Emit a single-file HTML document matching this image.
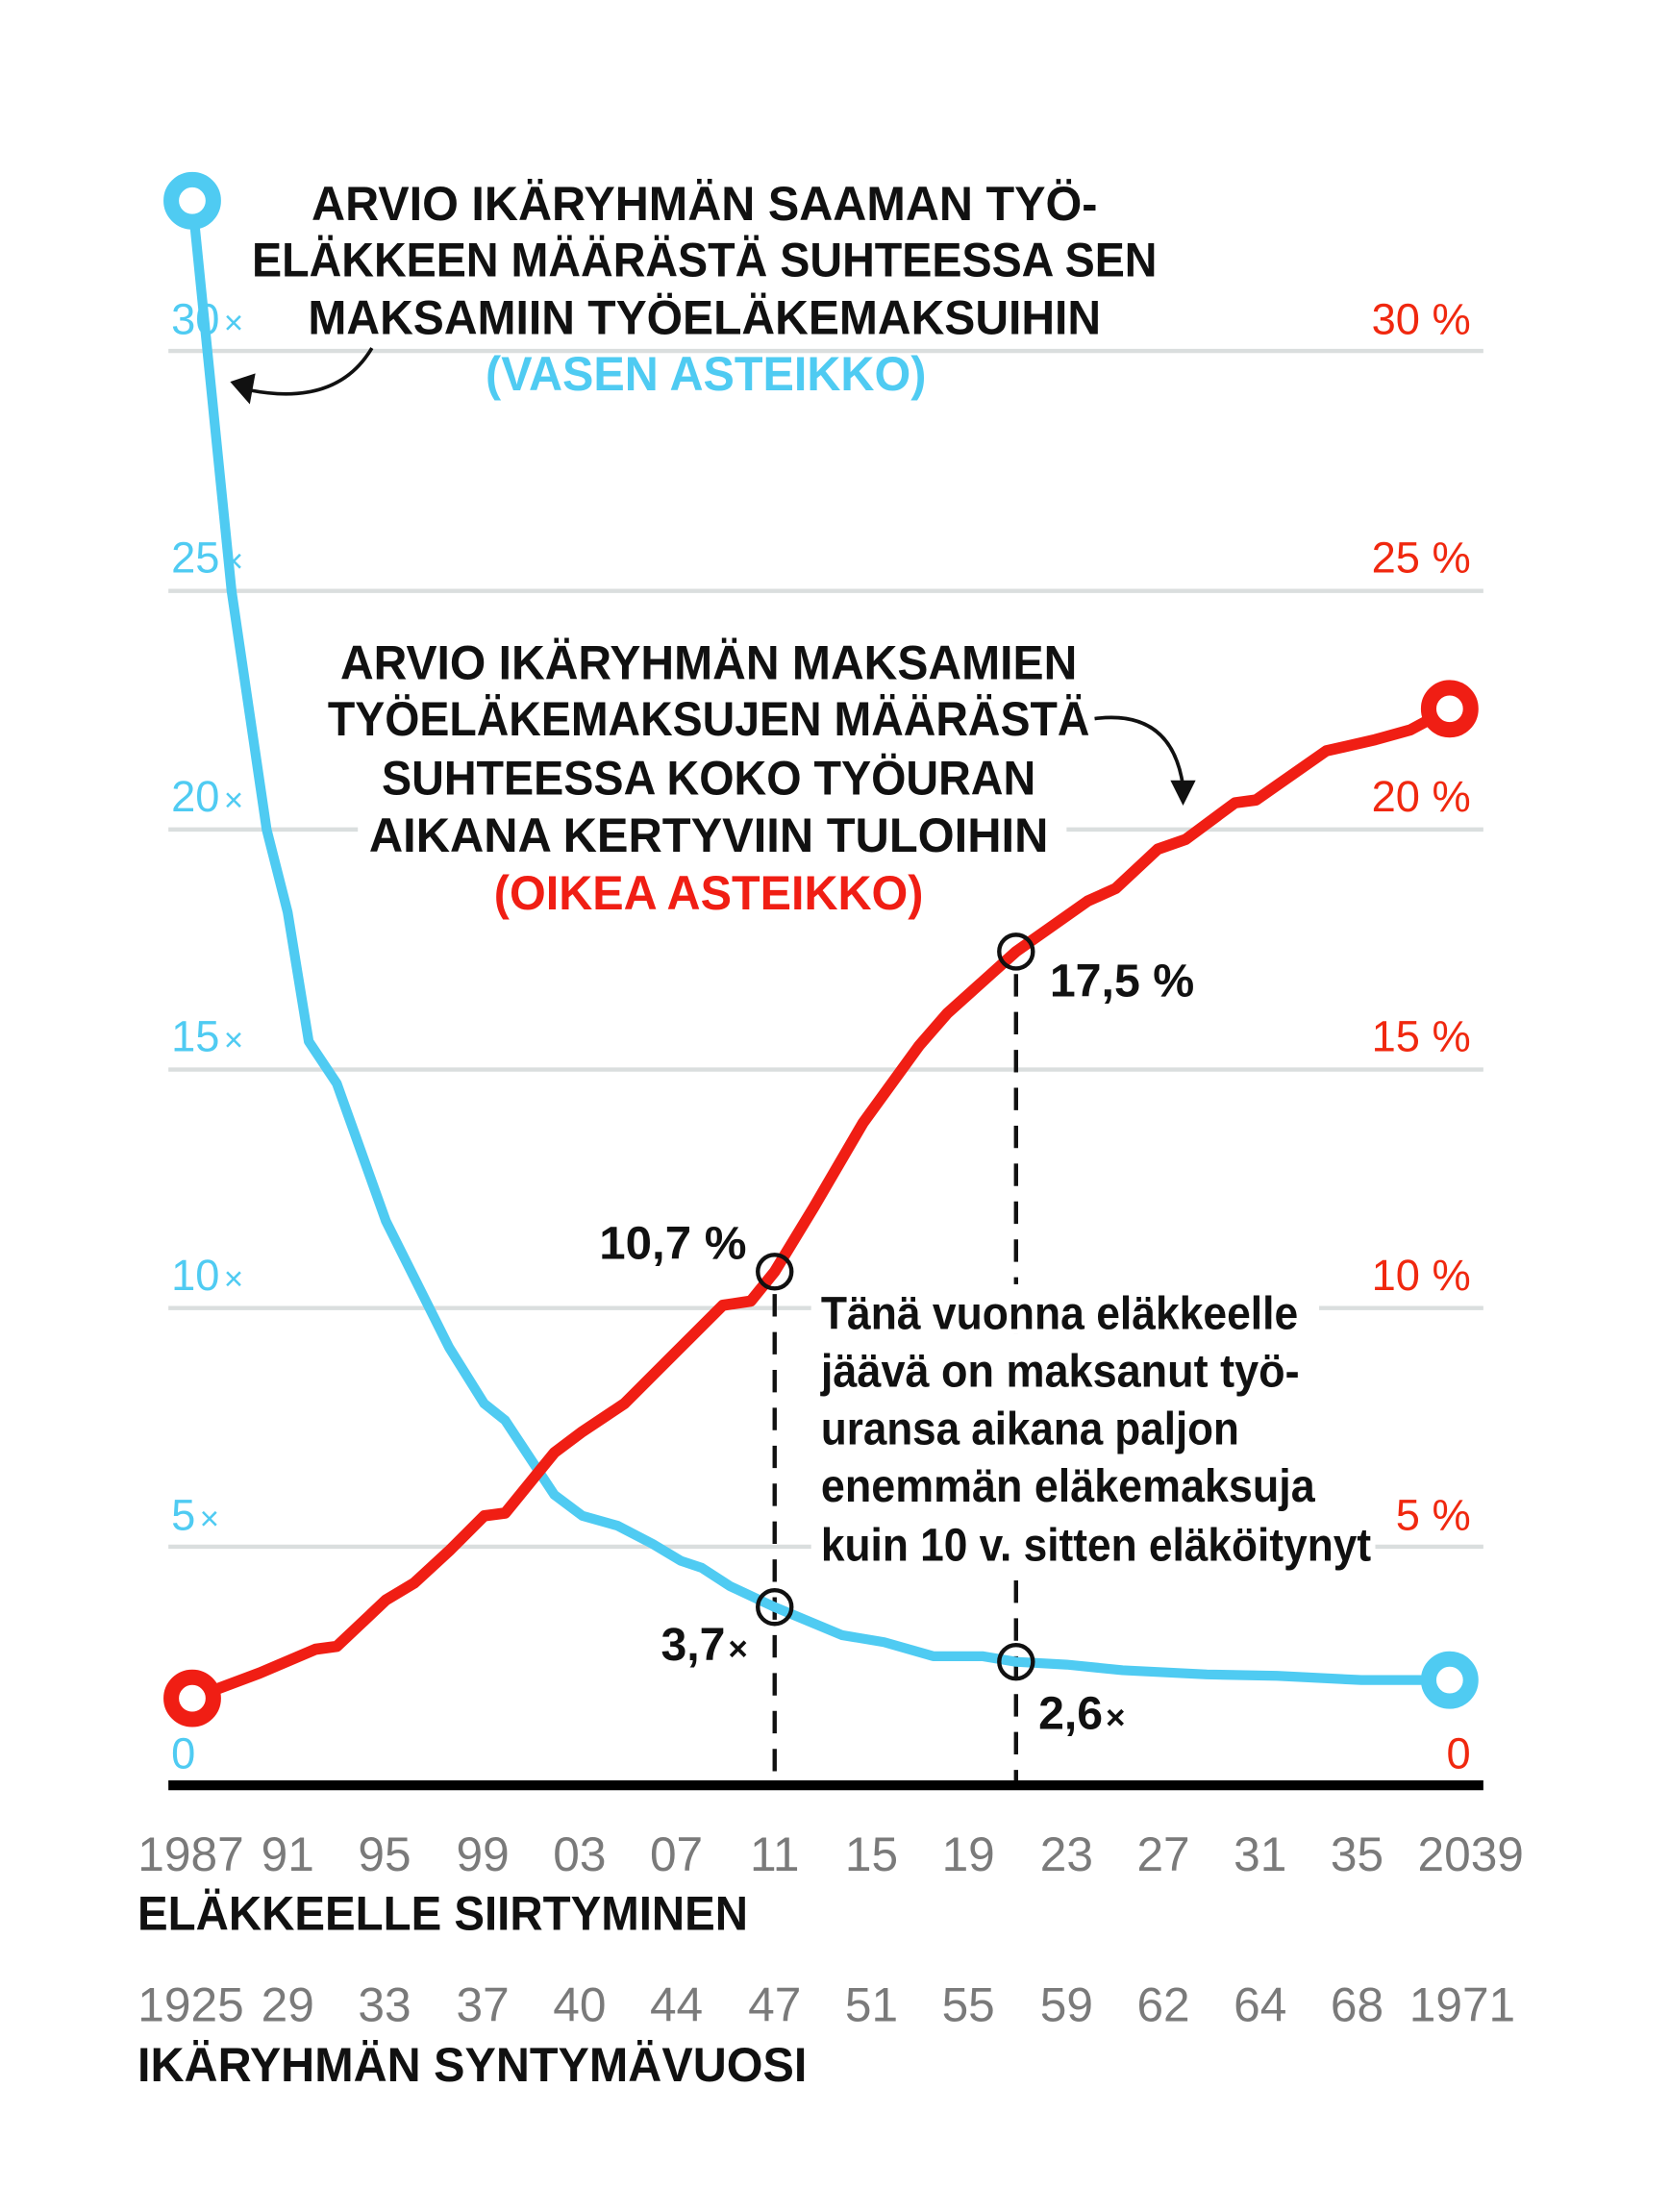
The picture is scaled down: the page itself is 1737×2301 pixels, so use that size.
<!DOCTYPE html>
<html><head><meta charset="utf-8"><style>
html,body{margin:0;padding:0;background:#fff}
svg{display:block}
text{font-family:"Liberation Sans",sans-serif}
</style></head><body>
<svg width="1737" height="2301" viewBox="0 0 1190 1576" preserveAspectRatio="none" xmlns="http://www.w3.org/2000/svg">
<rect width="1190" height="1576" fill="#fff"/>
<g stroke="#dadede" stroke-width="3">
<line x1="120" y1="250" x2="1057" y2="250"/>
<line x1="120" y1="421" x2="1057" y2="421"/>
<line x1="120" y1="591" x2="1057" y2="591"/>
<line x1="120" y1="762" x2="1057" y2="762"/>
<line x1="120" y1="932" x2="1057" y2="932"/>
<line x1="120" y1="1102" x2="1057" y2="1102"/>
</g>
<rect x="255" y="575" width="505" height="40" fill="#fff"/>
<g fill="#4fcbf2" font-size="31">
<text x="122" y="238">30<tspan font-size="24" dx="3">×</tspan></text>
<text x="122" y="408">25<tspan font-size="24" dx="3">×</tspan></text>
<text x="122" y="578">20<tspan font-size="24" dx="3">×</tspan></text>
<text x="122" y="749">15<tspan font-size="24" dx="3">×</tspan></text>
<text x="122" y="919">10<tspan font-size="24" dx="3">×</tspan></text>
<text x="122" y="1090">5<tspan font-size="24" dx="3">×</tspan></text>
<text x="122" y="1260">0</text>
</g>
<g fill="#f0280f" font-size="31" text-anchor="end">
<text x="1048" y="238">30 %</text>
<text x="1048" y="408">25 %</text>
<text x="1048" y="578">20 %</text>
<text x="1048" y="749">15 %</text>
<text x="1048" y="919">10 %</text>
<text x="1048" y="1090">5 %</text>
<text x="1048" y="1260">0</text>
</g>
<g stroke="#111" stroke-width="3" stroke-dasharray="16 11">
<line x1="552" y1="922" x2="552" y2="1270"/>
<line x1="724" y1="694" x2="724" y2="1270"/>
</g>
<rect x="578" y="915" width="362" height="35" fill="#fff"/>
<rect x="578" y="950" width="360" height="170" fill="#fff"/>
<rect x="938" y="1085" width="42" height="35" fill="#fff"/>
<polyline fill="none" stroke="#4fcbf2" stroke-width="7" stroke-linejoin="round" points="137,143 165,421 190,591 205,650 220,742 240,772 275,870 320,960 345,1000 360,1012 395,1065 415,1080 440,1087 465,1100 485,1112 500,1117 520,1130 552,1145 600,1165 630,1170 665,1180 700,1180 724,1184 760,1186 800,1190 860,1193 910,1194 970,1197 1033,1197"/>
<polyline fill="none" stroke="#f01e14" stroke-width="8" stroke-linejoin="round" points="137,1210 185,1192 225,1175 240,1173 275,1140 295,1128 320,1105 345,1080 360,1078 395,1035 415,1020 445,1000 480,965 515,930 535,927 552,906 580,860 615,800 655,745 675,722 724,678 775,642 795,633 825,605 845,598 880,572 895,570 945,535 980,527 1005,520 1033,505"/>
<g fill="none" stroke="#111" stroke-width="3">
<circle cx="552" cy="906" r="12"/><circle cx="552" cy="1145" r="12"/>
<circle cx="724" cy="678" r="12"/><circle cx="724" cy="1184" r="12"/>
</g>
<g fill="#fff" stroke-width="11">
<circle cx="137" cy="143" r="15" stroke="#4fcbf2"/>
<circle cx="1033" cy="1197" r="15" stroke="#4fcbf2"/>
<circle cx="137" cy="1210" r="15" stroke="#f01e14"/>
<circle cx="1033" cy="505" r="15" stroke="#f01e14"/>
</g>
<line x1="120" y1="1272" x2="1057" y2="1272" stroke="#000" stroke-width="7"/>
<g fill="none" stroke="#111" stroke-width="2.5">
<path d="M265,248 Q240,290 178,278"/>
<path d="M780,512 Q835,505 843,560"/>
</g>
<polygon points="164,272 182,266 178,288" fill="#111"/>
<polygon points="834,556 852,556 843,574" fill="#111"/>
<g fill="#111" font-size="34" font-weight="bold" text-anchor="middle">
<text x="502" y="157" textLength="560" lengthAdjust="spacingAndGlyphs">ARVIO IKÄRYHMÄN SAAMAN TYÖ-</text>
<text x="502" y="197" textLength="645" lengthAdjust="spacingAndGlyphs">ELÄKKEEN MÄÄRÄSTÄ SUHTEESSA SEN</text>
<text x="502" y="238" textLength="565" lengthAdjust="spacingAndGlyphs">MAKSAMIIN TYÖELÄKEMAKSUIHIN</text>
<text x="503" y="278" textLength="314" lengthAdjust="spacingAndGlyphs" fill="#4fcbf2">(VASEN ASTEIKKO)</text>
<text x="505" y="484" textLength="525" lengthAdjust="spacingAndGlyphs">ARVIO IKÄRYHMÄN MAKSAMIEN</text>
<text x="505" y="524" textLength="543" lengthAdjust="spacingAndGlyphs">TYÖELÄKEMAKSUJEN MÄÄRÄSTÄ</text>
<text x="505" y="566" textLength="466" lengthAdjust="spacingAndGlyphs">SUHTEESSA KOKO TYÖURAN</text>
<text x="505" y="607" textLength="484" lengthAdjust="spacingAndGlyphs">AIKANA KERTYVIIN TULOIHIN</text>
<text x="505" y="648" textLength="306" lengthAdjust="spacingAndGlyphs" fill="#f01e14">(OIKEA ASTEIKKO)</text>
</g>
<g fill="#111" font-size="33" font-weight="bold">
<text x="585" y="947" textLength="340" lengthAdjust="spacingAndGlyphs">Tänä vuonna eläkkeelle</text>
<text x="585" y="988" textLength="341" lengthAdjust="spacingAndGlyphs">jäävä on maksanut työ-</text>
<text x="585" y="1029" textLength="298" lengthAdjust="spacingAndGlyphs">uransa aikana paljon</text>
<text x="585" y="1070" textLength="352" lengthAdjust="spacingAndGlyphs">enemmän eläkemaksuja</text>
<text x="585" y="1112" textLength="392" lengthAdjust="spacingAndGlyphs">kuin 10 v. sitten eläköitynyt</text>
<text x="748" y="710" textLength="103" lengthAdjust="spacingAndGlyphs">17,5 %</text>
<text x="427" y="897" textLength="105" lengthAdjust="spacingAndGlyphs">10,7 %</text>
<text x="471" y="1183">3,7<tspan font-size="24" dx="2">×</tspan></text>
<text x="740" y="1232">2,6<tspan font-size="24" dx="2">×</tspan></text>
</g>
<g fill="#7a7a7a" font-size="34" text-anchor="middle">
<text x="136" y="1333">1987</text><text x="205" y="1333">91</text><text x="274" y="1333">95</text><text x="344" y="1333">99</text><text x="413" y="1333">03</text><text x="482" y="1333">07</text><text x="552" y="1333">11</text><text x="621" y="1333">15</text><text x="690" y="1333">19</text><text x="760" y="1333">23</text><text x="829" y="1333">27</text><text x="898" y="1333">31</text><text x="967" y="1333">35</text><text x="1048" y="1333">2039</text>
<text x="136" y="1440">1925</text><text x="205" y="1440">29</text><text x="274" y="1440">33</text><text x="344" y="1440">37</text><text x="413" y="1440">40</text><text x="482" y="1440">44</text><text x="552" y="1440">47</text><text x="621" y="1440">51</text><text x="690" y="1440">55</text><text x="760" y="1440">59</text><text x="829" y="1440">62</text><text x="898" y="1440">64</text><text x="967" y="1440">68</text><text x="1042" y="1440">1971</text>
</g>
<g fill="#111" font-size="34" font-weight="bold">
<text x="98" y="1375" textLength="435" lengthAdjust="spacingAndGlyphs">ELÄKKEELLE SIIRTYMINEN</text>
<text x="98" y="1483" textLength="477" lengthAdjust="spacingAndGlyphs">IKÄRYHMÄN SYNTYMÄVUOSI</text>
</g>
</svg>
</body></html>
